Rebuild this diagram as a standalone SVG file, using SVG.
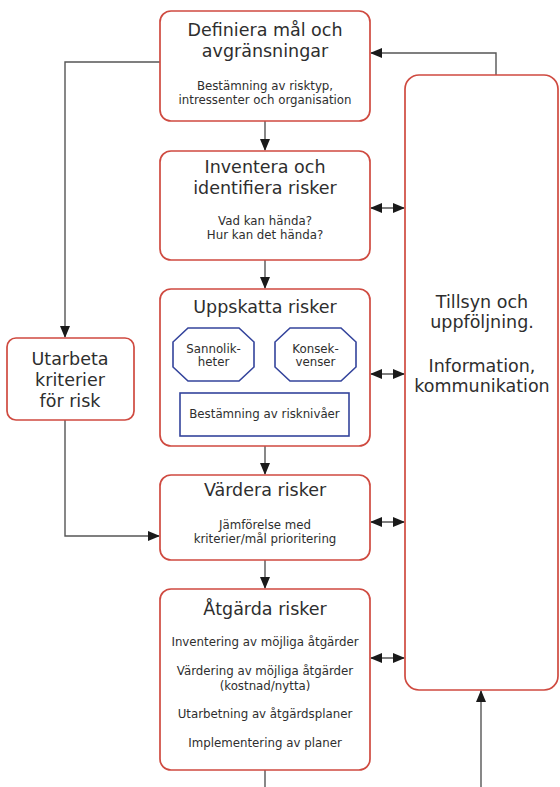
<svg xmlns="http://www.w3.org/2000/svg" width="560" height="787" viewBox="0 0 560 787">
<style>
.box{fill:#fff;stroke:#cf4a40;stroke-width:1.7}
.blue{fill:#fff;stroke:#34449c;stroke-width:1.6}
.t{font-family:"DejaVu Sans",Verdana,sans-serif;fill:#2e2e2e;text-anchor:middle}
.h{font-size:17.5px}
.m{font-size:11.8px}
.c{fill:none;stroke:#555;stroke-width:1.4}
</style>
<defs>
<marker id="ah" markerUnits="userSpaceOnUse" markerWidth="12" markerHeight="10" refX="11" refY="5" orient="auto-start-reverse" viewBox="0 0 12 10">
<path d="M0,0 L12,5 L0,10 z" fill="#1a1a1a"/>
</marker>
</defs>
<rect width="560" height="787" fill="#fff"/>
<g id="connectors">
<path class="c" d="M265,121 V150" marker-end="url(#ah)"/>
<path class="c" d="M265,260 V288" marker-end="url(#ah)"/>
<path class="c" d="M265,446 V474" marker-end="url(#ah)"/>
<path class="c" d="M265,560 V588" marker-end="url(#ah)"/>
<path class="c" d="M265,770 V787"/>
<path class="c" d="M481,787 V691" marker-end="url(#ah)"/>
<path class="c" d="M496,75 V53 H371" marker-end="url(#ah)"/>
<path class="c" d="M160,62 H65 V337" marker-end="url(#ah)"/>
<path class="c" d="M65,420 V536 H159" marker-end="url(#ah)"/>
<path class="c" d="M371,208 H404" marker-start="url(#ah)" marker-end="url(#ah)"/>
<path class="c" d="M371,374 H404" marker-start="url(#ah)" marker-end="url(#ah)"/>
<path class="c" d="M371,522 H404" marker-start="url(#ah)" marker-end="url(#ah)"/>
<path class="c" d="M371,658 H404" marker-start="url(#ah)" marker-end="url(#ah)"/>
</g>
<g id="definiera">
<rect class="box" x="160" y="11" width="210" height="110" rx="11"/>
<text class="t h" x="265" y="36">Definiera mål och</text>
<text class="t h" x="265" y="57">avgränsningar</text>
<text class="t m" x="265" y="90">Bestämning av risktyp,</text>
<text class="t m" x="265" y="103.5">intressenter och organisation</text>
</g>
<g id="inventera">
<rect class="box" x="160" y="151" width="210" height="109" rx="11"/>
<text class="t h" x="265" y="173">Inventera och</text>
<text class="t h" x="265" y="194">identifiera risker</text>
<text class="t m" x="265" y="225">Vad kan hända?</text>
<text class="t m" x="265" y="239">Hur kan det hända?</text>
</g>
<g id="uppskatta">
<rect class="box" x="160" y="289" width="210" height="157" rx="11"/>
<text class="t h" x="265" y="313">Uppskatta risker</text>
<polygon class="blue" points="188,328 239,328 254,342 254,367 239,381 188,381 173,367 173,342"/>
<text class="t m" x="213.5" y="353">Sannolik-</text>
<text class="t m" x="213.5" y="366">heter</text>
<polygon class="blue" points="290,328 341,328 356,342 356,367 341,381 290,381 275,367 275,342"/>
<text class="t m" x="315.5" y="353">Konsek-</text>
<text class="t m" x="315.5" y="366">venser</text>
<rect class="blue" x="180" y="393" width="169" height="43"/>
<text class="t m" x="264.5" y="418">Bestämning av risknivåer</text>
</g>
<g id="vardera">
<rect class="box" x="160" y="475" width="210" height="85" rx="11"/>
<text class="t h" x="265" y="496">Värdera risker</text>
<text class="t m" x="265" y="529">Jämförelse med</text>
<text class="t m" x="265" y="543">kriterier/mål prioritering</text>
</g>
<g id="atgarda">
<rect class="box" x="160" y="589" width="210" height="181" rx="11"/>
<text class="t h" x="265" y="615">Åtgärda risker</text>
<text class="t m" x="265" y="646">Inventering av möjliga åtgärder</text>
<text class="t m" x="265" y="675">Värdering av möjliga åtgärder</text>
<text class="t m" x="265" y="690">(kostnad/nytta)</text>
<text class="t m" x="265" y="718">Utarbetning av åtgärdsplaner</text>
<text class="t m" x="265" y="747">Implementering av planer</text>
</g>
<g id="utarbeta">
<rect class="box" x="7" y="338" width="127" height="82" rx="9"/>
<text class="t h" x="70" y="365">Utarbeta</text>
<text class="t h" x="70" y="386">kriterier</text>
<text class="t h" x="70" y="407">för risk</text>
</g>
<g id="tillsyn">
<rect class="box" x="405" y="75" width="153" height="615" rx="14"/>
<text class="t h" x="482" y="308">Tillsyn och</text>
<text class="t h" x="482" y="328">uppföljning.</text>
<text class="t h" x="482" y="372">Information,</text>
<text class="t h" x="482" y="392">kommunikation</text>
</g>
</svg>
